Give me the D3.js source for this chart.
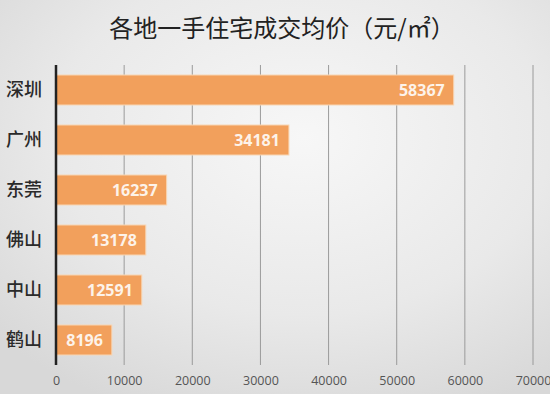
<!DOCTYPE html>
<html><head><meta charset="utf-8">
<script src="https://cdn.jsdelivr.net/npm/d3@7"></script>
<style>html,body{margin:0;padding:0;overflow:hidden;}svg{display:block;}</style>
</head><body>
<script>
const categories = ["深圳","广州","东莞","佛山","中山","鹤山"];
const values = [58367,34181,16237,13178,12591,8196];
const tickValues = [0,10000,20000,30000,40000,50000,60000,70000];
const title = "各地一手住宅成交均价（元/㎡）";

const W = 550, H = 394;
const svg = d3.select("body").append("svg").attr("width", W).attr("height", H);
const defs = svg.append("defs");
const g1 = defs.append("radialGradient").attr("id","bg").attr("cx","55%").attr("cy","35%").attr("r","75%");
g1.append("stop").attr("offset","0%").attr("stop-color","#f7f7f7");
g1.append("stop").attr("offset","60%").attr("stop-color","#e9e9e9");
g1.append("stop").attr("offset","100%").attr("stop-color","#d8d8d8");
svg.append("rect").attr("width",W).attr("height",H).attr("fill","url(#bg)");

const x = d3.scaleLinear().domain([0,70000]).range([56,533]);
const y = d3.scaleBand().domain(categories).range([65,365]).paddingInner(0.4).paddingOuter(0.2);

// grid
svg.append("g").selectAll("line").data(tickValues.slice(1)).join("line")
  .attr("x1", d=>x(d)).attr("x2", d=>x(d)).attr("y1",65).attr("y2",365)
  .attr("stroke","#9a9a9a").attr("stroke-width",1);

// bars
svg.append("g").selectAll("rect").data(values).join("rect")
  .attr("x", x(0)).attr("y",(d,i)=>y(categories[i]))
  .attr("width", d=>x(d)-x(0)).attr("height", y.bandwidth())
  .attr("fill","#f2a05c").attr("stroke","#f8d6b4").attr("stroke-width",1);

// value labels
svg.append("g").selectAll("text").data(values).join("text")
  .attr("x", d=>x(d)-9).attr("y",(d,i)=>y(categories[i])+y.bandwidth()/2)
  .attr("dy","0.36em").attr("text-anchor","end")
  .attr("fill","#fdf3ea").attr("font-family","'Open Sans','DejaVu Sans',sans-serif")
  .attr("font-weight","bold").attr("font-size","16px").text(d=>d);

// y axis
const ya = svg.append("g").attr("transform",`translate(${x(0)},0)`).call(d3.axisLeft(y).tickSize(0).tickPadding(14));
ya.select(".domain").attr("stroke","#222").attr("stroke-width",2.5).attr("d","M0,65V365");
ya.selectAll("text").attr("font-family","'Noto Sans CJK SC',sans-serif").attr("font-size","18px")
  .attr("font-weight","500").attr("fill","#2a2a2a");

// x axis
const xa = svg.append("g").attr("transform","translate(0,374)").call(d3.axisBottom(x).tickValues(tickValues).tickSize(0).tickPadding(2).tickFormat(d3.format("d")));
xa.select(".domain").remove();
xa.selectAll("text").attr("font-family","'Open Sans','DejaVu Sans',sans-serif").attr("font-size","12.5px").attr("fill","#555");

// title
svg.append("text").attr("x",282).attr("y",37).attr("text-anchor","middle")
  .attr("font-family","'Noto Sans CJK SC',sans-serif").attr("font-size","24px")
  .attr("font-weight","normal").attr("fill","#222").text(title);
</script>
</body></html>
